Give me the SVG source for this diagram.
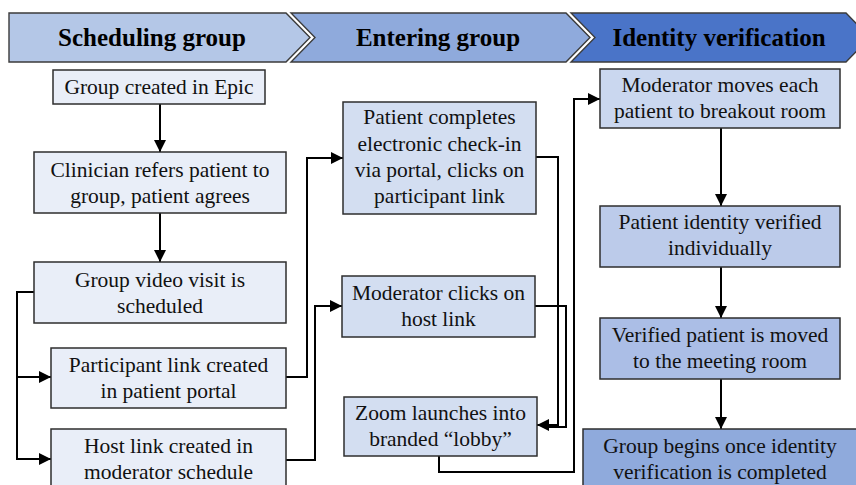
<svg xmlns="http://www.w3.org/2000/svg" width="856" height="485" viewBox="0 0 856 485" font-family="Liberation Serif, Times New Roman, Times, serif">
  <defs>
    <marker id="arrow" viewBox="0 0 10 10" refX="10" refY="5" markerWidth="6" markerHeight="6" orient="auto" markerUnits="strokeWidth">
      <path d="M0,0 L10,5 L0,10 Z" fill="#000"/>
    </marker>
    <style>
      .band { stroke: #3b3b3b; stroke-width: 1.4; }
      .title { font-weight: bold; font-size: 25px; fill: #000; text-anchor: middle; }
      .box { stroke: #2e2e2e; stroke-width: 1.5; }
      .label { font-size: 21.5px; fill: #111; text-anchor: middle; }
      .c1 { fill: #e9eef8; }
      .c2 { fill: #d3def1; }
      .c3a { fill: #cad7ef; }
      .c3b { fill: #bccbea; }
      .c3c { fill: #abbee6; }
      .c3d { fill: #8faadc; }
      .wire { fill: none; stroke: #000; stroke-width: 2; }
    </style>
  </defs>

  <rect width="856" height="485" fill="#fff"/>

  <!-- phase banner -->
  <g id="phase-scheduling">
    <path class="band" d="M9,13 L286,13 L310,37.5 L286,62 L9,62 Z" fill="#b4c7e7"/>
    <text class="title" x="152" y="46" font-family="Liberation Serif, serif">Scheduling group</text>
  </g>
  <g id="phase-entering">
    <path class="band" d="M291,13 L566,13 L590,37.5 L566,62 L291,62 L315,37.5 Z" fill="#8faadc"/>
    <text class="title" x="438" y="46" font-family="Liberation Serif, serif">Entering group</text>
  </g>
  <g id="phase-identity">
    <path class="band" d="M571,13 L846,13 L870,37.5 L846,62 L571,62 L595,37.5 Z" fill="#4a74c8"/>
    <text class="title" x="719" y="46" font-family="Liberation Serif, serif">Identity verification</text>
  </g>

  <!-- connectors -->
  <g id="connectors">
    <path class="wire" d="M160,104 V152" marker-end="url(#arrow)"/>
    <path class="wire" d="M160,213 V262" marker-end="url(#arrow)"/>
    <path class="wire" d="M34,292 H17 V459 H51" marker-end="url(#arrow)"/>
    <path class="wire" d="M17,377 H51" marker-end="url(#arrow)"/>
    <path class="wire" d="M286,377 H307 V158 H343" marker-end="url(#arrow)"/>
    <path class="wire" d="M286,460 H315 V306 H342" marker-end="url(#arrow)"/>
    <path class="wire" d="M536,157 H558 V425 H537" marker-end="url(#arrow)"/>
    <path class="wire" d="M535,306 H566 V427 H548"/>
    <path class="wire" d="M439,456 V472 H574 V99 H600" marker-end="url(#arrow)"/>
    <path class="wire" d="M721,128 V206" marker-end="url(#arrow)"/>
    <path class="wire" d="M721,267 V318" marker-end="url(#arrow)"/>
    <path class="wire" d="M721,379 V429" marker-end="url(#arrow)"/>
  </g>

  <!-- scheduling steps -->
  <g id="group-created">
    <rect class="box c1" x="53" y="70" width="212" height="34"/>
    <text class="label" x="159" y="94">Group created in Epic</text>
  </g>
  <g id="clinician-refers">
    <rect class="box c1" x="34" y="152" width="252" height="61"/>
    <text class="label" x="160" y="177">Clinician refers patient to</text>
    <text class="label" x="160" y="203">group, patient agrees</text>
  </g>
  <g id="visit-scheduled">
    <rect class="box c1" x="34" y="262" width="252" height="61"/>
    <text class="label" x="160" y="287">Group video visit is</text>
    <text class="label" x="160" y="313">scheduled</text>
  </g>
  <g id="participant-link">
    <rect class="box c1" x="51" y="348" width="235" height="60"/>
    <text class="label" x="168.5" y="372">Participant link created</text>
    <text class="label" x="168.5" y="398">in patient portal</text>
  </g>
  <g id="host-link">
    <rect class="box c1" x="51" y="429" width="235" height="62"/>
    <text class="label" x="168.5" y="453">Host link created in</text>
    <text class="label" x="168.5" y="479">moderator schedule</text>
  </g>

  <!-- entering steps -->
  <g id="patient-checkin">
    <rect class="box c2" x="343" y="102" width="193" height="112"/>
    <text class="label" x="439.5" y="124">Patient completes</text>
    <text class="label" x="439.5" y="151">electronic check-in</text>
    <text class="label" x="439.5" y="177">via portal, clicks on</text>
    <text class="label" x="439.5" y="203">participant link</text>
  </g>
  <g id="moderator-clicks">
    <rect class="box c2" x="342" y="276" width="193" height="61"/>
    <text class="label" x="438.5" y="300">Moderator clicks on</text>
    <text class="label" x="438.5" y="326">host link</text>
  </g>
  <g id="zoom-lobby">
    <rect class="box c2" x="344" y="397" width="193" height="59"/>
    <text class="label" x="440.5" y="420">Zoom launches into</text>
    <text class="label" x="440.5" y="446">branded “lobby”</text>
  </g>

  <!-- identity steps -->
  <g id="breakout-room">
    <rect class="box c3a" x="600" y="69" width="240" height="59"/>
    <text class="label" x="720" y="92">Moderator moves each</text>
    <text class="label" x="720" y="118">patient to breakout room</text>
  </g>
  <g id="identity-verified">
    <rect class="box c3b" x="600" y="206" width="240" height="61"/>
    <text class="label" x="720" y="229">Patient identity verified</text>
    <text class="label" x="720" y="255">individually</text>
  </g>
  <g id="meeting-room">
    <rect class="box c3c" x="600" y="318" width="240" height="61"/>
    <text class="label" x="720" y="342">Verified patient is moved</text>
    <text class="label" x="720" y="368">to the meeting room</text>
  </g>
  <g id="group-begins">
    <rect class="box c3d" x="583" y="429" width="276" height="62"/>
    <text class="label" x="720" y="453">Group begins once identity</text>
    <text class="label" x="720" y="479">verification is completed</text>
  </g>
</svg>
